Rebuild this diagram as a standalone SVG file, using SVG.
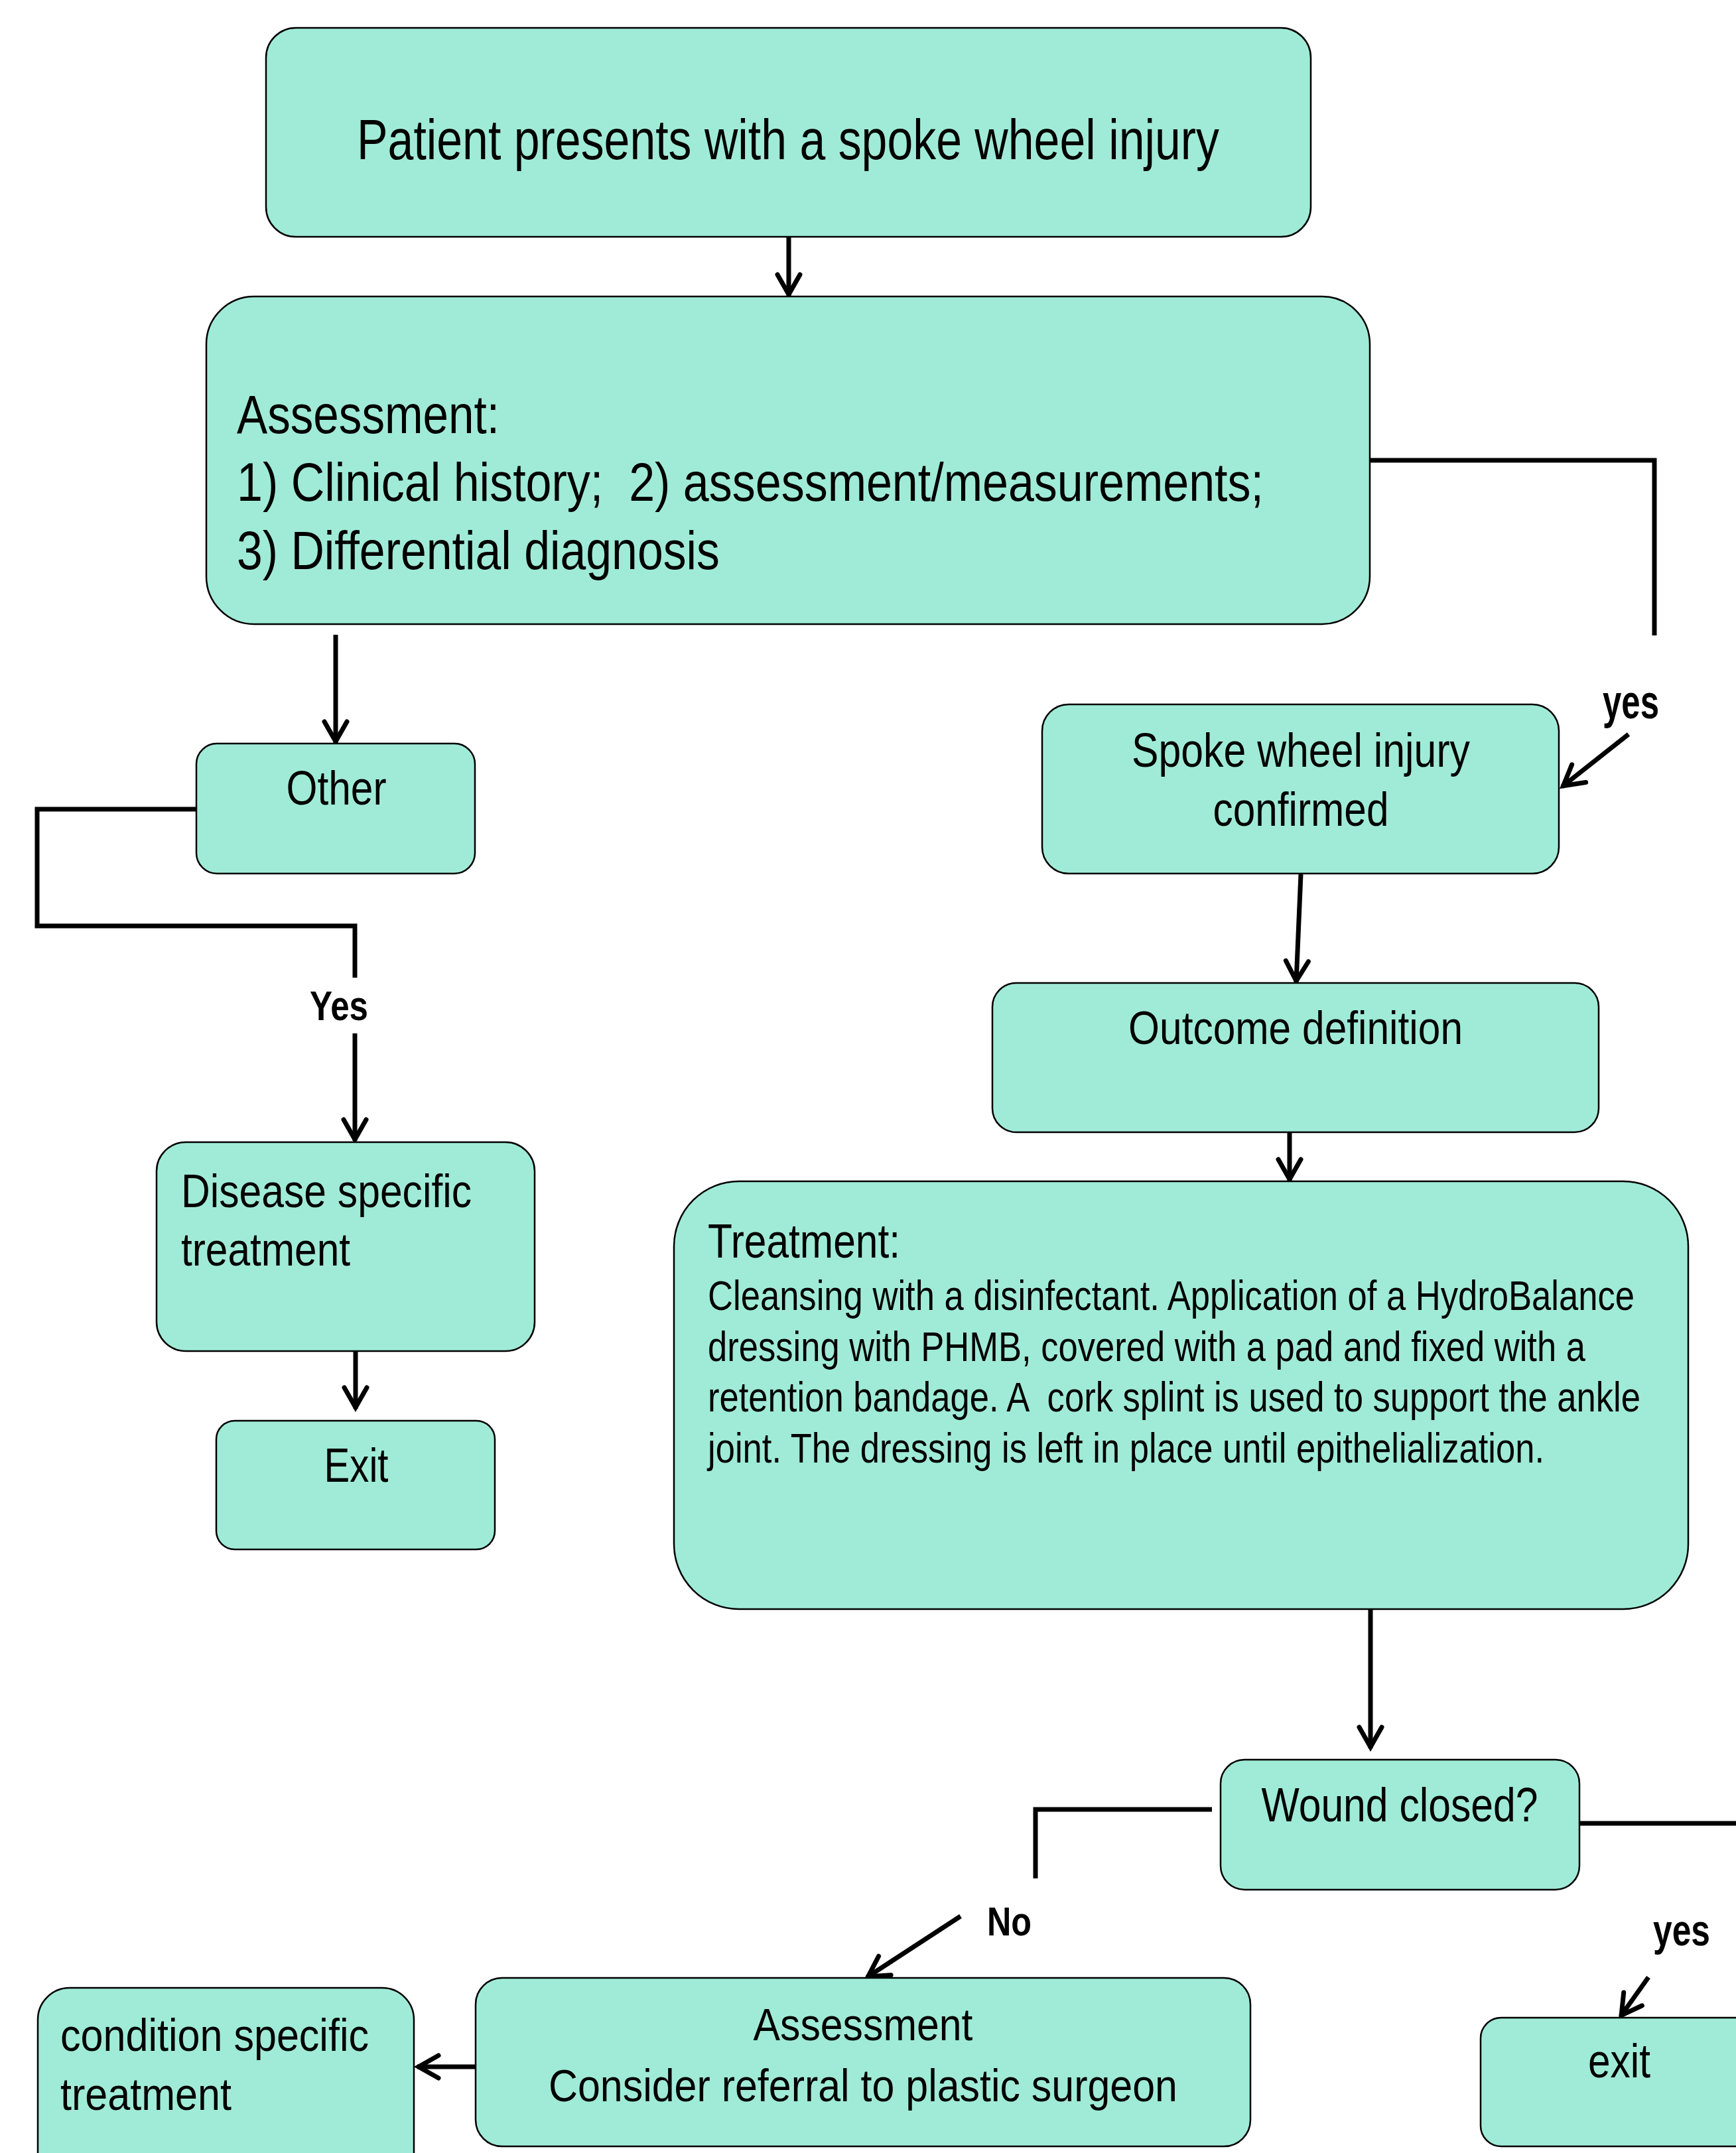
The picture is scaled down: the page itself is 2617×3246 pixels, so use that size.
<svg xmlns="http://www.w3.org/2000/svg" width="2617" height="3246" viewBox="0 0 2617 3246">
<style>
.box{fill:#A0EBD7;stroke:#000;stroke-width:2.5}
.t{font-family:"Liberation Sans",Arial,sans-serif;fill:#000;white-space:pre}
.b{font-weight:bold}
.m{text-anchor:middle}
.c{fill:none;stroke:#000;stroke-width:7;stroke-linecap:butt;stroke-linejoin:miter}
.a{marker-end:url(#arr)}
</style>
<defs>
<marker id="arr" markerUnits="userSpaceOnUse" markerWidth="60" markerHeight="60" viewBox="-45 -30 60 60" refX="0" refY="0" orient="auto" overflow="visible">
<path d="M-32,-17 L-2,0 L-32,17" fill="none" stroke="#000" stroke-width="7" stroke-linecap="round" stroke-linejoin="miter"/>
</marker>
</defs>
<rect width="2617" height="3246" fill="#fff"/>
<g id="connectors">
<path class="c a" d="M1189,357 L1189,446"/>
<path class="c" d="M2066,694 L2494,694 L2494,958"/>
<path class="c a" d="M2455,1107 L2355,1186"/>
<path class="c a" d="M506,957 L506,1120"/>
<path class="c" d="M296,1220 L56,1220 L56,1396 L535,1396 L535,1474"/>
<path class="c a" d="M535,1558 L535,1720"/>
<path class="c a" d="M536,2037 L536,2124"/>
<path class="c a" d="M1961,1318 L1954,1481"/>
<path class="c a" d="M1944,1707 L1944,1780"/>
<path class="c a" d="M2066,2426 L2066,2636"/>
<path class="c" d="M1827,2728 L1561,2728 L1561,2832"/>
<path class="c a" d="M1448,2889 L1307,2981"/>
<path class="c" d="M2381,2749 L2625,2749"/>
<path class="c a" d="M2485,2981 L2443,3040"/>
<path class="c a" d="M717,3116 L629,3116"/>
</g>
<g id="labels">
<text class="t b" x="2416" y="1083" font-size="72" textLength="85" lengthAdjust="spacingAndGlyphs">yes</text>
<text class="t b m" x="511" y="1538" font-size="63" textLength="88" lengthAdjust="spacingAndGlyphs">Yes</text>
<text class="t b" x="1488" y="2918" font-size="61" textLength="67" lengthAdjust="spacingAndGlyphs">No</text>
<text class="t b" x="2492" y="2933" font-size="66" textLength="86" lengthAdjust="spacingAndGlyphs">yes</text>
</g>
<g id="n-start">
<rect class="box" x="401" y="42" width="1575" height="315" rx="45"/>
<text class="t m" x="1188" y="240" font-size="85" textLength="1300" lengthAdjust="spacingAndGlyphs">Patient presents with a spoke wheel injury</text>
</g>
<g id="n-assessment">
<rect class="box" x="311" y="447" width="1754" height="494" rx="72"/>
<text class="t" x="357" y="653" font-size="82" textLength="396" lengthAdjust="spacingAndGlyphs">Assessment:</text>
<text class="t" x="357" y="755" font-size="82" textLength="1548" lengthAdjust="spacingAndGlyphs">1) Clinical history;  2) assessment/measurements;</text>
<text class="t" x="357" y="858" font-size="82" textLength="728" lengthAdjust="spacingAndGlyphs">3) Differential diagnosis</text>
</g>
<g id="n-other">
<rect class="box" x="296" y="1121" width="420" height="196" rx="31"/>
<text class="t m" x="507" y="1213" font-size="72" textLength="151" lengthAdjust="spacingAndGlyphs">Other</text>
</g>
<g id="n-disease">
<rect class="box" x="236" y="1722" width="570" height="315" rx="44"/>
<text class="t" x="273" y="1820" font-size="71" textLength="438" lengthAdjust="spacingAndGlyphs">Disease specific</text>
<text class="t" x="273" y="1908" font-size="71" textLength="255" lengthAdjust="spacingAndGlyphs">treatment</text>
</g>
<g id="n-exit-left">
<rect class="box" x="326" y="2142" width="420" height="194" rx="28"/>
<text class="t m" x="537" y="2234" font-size="73" textLength="97" lengthAdjust="spacingAndGlyphs">Exit</text>
</g>
<g id="n-spoke">
<rect class="box" x="1571" y="1062" width="779" height="255" rx="40"/>
<text class="t m" x="1961" y="1156" font-size="72" textLength="510" lengthAdjust="spacingAndGlyphs">Spoke wheel injury</text>
<text class="t m" x="1961" y="1245" font-size="72" textLength="265" lengthAdjust="spacingAndGlyphs">confirmed</text>
</g>
<g id="n-outcome">
<rect class="box" x="1496" y="1482" width="914" height="225" rx="36"/>
<text class="t m" x="1953" y="1574" font-size="70" textLength="504" lengthAdjust="spacingAndGlyphs">Outcome definition</text>
</g>
<g id="n-treatment">
<rect class="box" x="1016" y="1781" width="1529" height="645" rx="98"/>
<text class="t" x="1067" y="1896" font-size="72" textLength="290" lengthAdjust="spacingAndGlyphs">Treatment:</text>
<text class="t" transform="translate(1067,1975) scale(0.82,1)" x="0" y="0" font-size="63" textLength="1703.7" lengthAdjust="spacingAndGlyphs">Cleansing with a disinfectant. Application of a HydroBalance</text>
<text class="t" transform="translate(1067,2052) scale(0.82,1)" x="0" y="0" font-size="63" textLength="1613.4" lengthAdjust="spacingAndGlyphs">dressing with PHMB, covered with a pad and fixed with a</text>
<text class="t" transform="translate(1067,2128) scale(0.82,1)" x="0" y="0" font-size="63" textLength="1714.6" lengthAdjust="spacingAndGlyphs">retention bandage. A  cork splint is used to support the ankle</text>
<text class="t" transform="translate(1067,2205) scale(0.82,1)" x="0" y="0" font-size="63" textLength="1537.8" lengthAdjust="spacingAndGlyphs">joint. The dressing is left in place until epithelialization.</text>
</g>
<g id="n-wound">
<rect class="box" x="1840" y="2653" width="541" height="196" rx="36"/>
<text class="t m" x="2110" y="2746" font-size="72" textLength="417" lengthAdjust="spacingAndGlyphs">Wound closed?</text>
</g>
<g id="n-assessment2">
<rect class="box" x="717" y="2982" width="1168" height="254" rx="40"/>
<text class="t m" x="1301" y="3076" font-size="69" textLength="331" lengthAdjust="spacingAndGlyphs">Assessment</text>
<text class="t m" x="1301" y="3168" font-size="69" textLength="948" lengthAdjust="spacingAndGlyphs">Consider referral to plastic surgeon</text>
</g>
<g id="n-condition">
<rect class="box" x="57" y="2997" width="567" height="300" rx="48"/>
<text class="t" x="91" y="3092" font-size="69" textLength="465" lengthAdjust="spacingAndGlyphs">condition specific</text>
<text class="t" x="91" y="3181" font-size="69" textLength="258" lengthAdjust="spacingAndGlyphs">treatment</text>
</g>
<g id="n-exit-right">
<rect class="box" x="2232" y="3042" width="420" height="194" rx="31"/>
<text class="t m" x="2441" y="3132" font-size="72" textLength="94" lengthAdjust="spacingAndGlyphs">exit</text>
</g>
</svg>
